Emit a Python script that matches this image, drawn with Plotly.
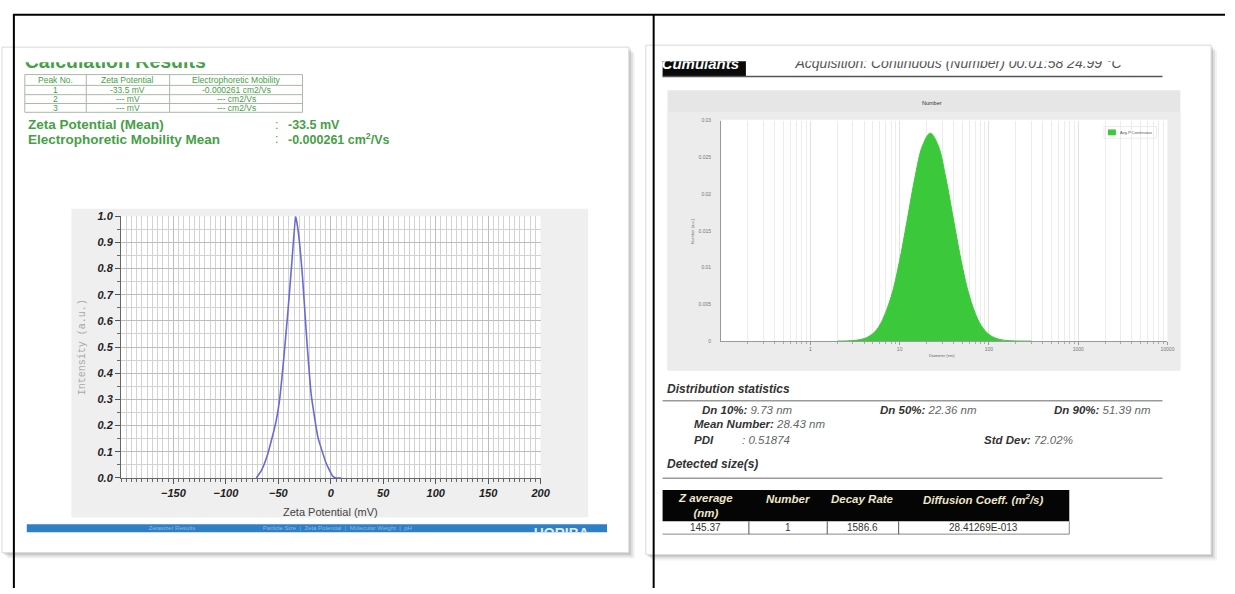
import plotly.graph_objects as go

W, H = 1235, 594
FONT = "Arial, Liberation Sans, sans-serif"
GREEN_TXT = "#46a046"

# ---- zeta potential distribution (left report) ----
zeta_mv = [-71, -66, -61, -56.6, -52, -48.6, -45, -41, -37, -33.5, -31, -27,
           -23.4, -18.7, -12.3, -4.4, 2, 5, 10]
zeta_intensity = [0, 0.03, 0.08, 0.144, 0.22, 0.306, 0.45, 0.63, 0.83, 1.0, 0.94,
                  0.77, 0.556, 0.319, 0.156, 0.056, 0.006, 0, 0]
zeta_tick_vals = [-150, -100, -50, 0, 50, 100, 150, 200]

# ---- number size distribution (right report) ----
diameter_nm = [2, 3, 4, 5, 6, 8, 10, 12, 15, 18, 22, 27, 33, 40, 50, 60, 75, 90,
               110, 140, 180, 220, 300]
number_dist = [0.000005, 0.00007, 0.00034, 0.00101, 0.00219, 0.00597, 0.01098,
               0.01613, 0.02258, 0.02657, 0.0283, 0.02663, 0.02215, 0.0166,
               0.01033, 0.00627, 0.00297, 0.00144, 0.00058, 0.00016, 0.00004,
               0.00001, 0]
diam_tick_vals = [1, 10, 100, 1000, 10000]
diam_tick_text = ["1", "10", "100", "1000", "10000"]
diam_minor_vals = [m * d for d in (0.1, 1, 10, 100, 1000) for m in range(2, 10)]
number_tick_vals = [0, 0.005, 0.01, 0.015, 0.02, 0.025, 0.03]
number_tick_text = ["0", "0.005", "0.01", "0.015", "0.02", "0.025", "0.03"]

# ---- result tables ----
peak_headers = ["Peak No.", "Zeta Potential", "Electrophoretic Mobility"]
peak_no = ["1", "2", "3"]
peak_zeta = ["-33.5 mV", "--- mV", "--- mV"]
peak_mobility = ["-0.000261 cm2/Vs", "--- cm2/Vs", "--- cm2/Vs"]
zeta_mean = "-33.5 mV"
mobility_mean = "-0.000261 cm<sup>2</sup>/Vs"

stat_labels = ["Dn 10%:", "Dn 50%:", "Dn 90%:", "Mean Number:", "PDI", "Std Dev:"]
stat_values = ["9.73 nm", "22.36 nm", "51.39 nm", "28.43 nm", ": 0.51874", "72.02%"]

size_headers = ["Z average<br>(nm)", "Number", "Decay Rate",
                "Diffusion Coeff. (m<sup>2</sup>/s)"]
size_values = ["145.37", "1", "1586.6", "28.41269E-013"]


def fx(x):
    return x / W


def fy(y):
    return 1 - y / H


shapes = []
annotations = []


def rect(x0, y0, x1, y1, fill, line=None, lw=0, layer="below"):
    shapes.append(dict(type="rect", xref="paper", yref="paper",
                       x0=fx(x0), x1=fx(x1), y0=fy(y1), y1=fy(y0),
                       fillcolor=fill, line=dict(color=line or fill, width=lw),
                       layer=layer))


def seg(x0, y0, x1, y1, color, w=1, layer="below"):
    shapes.append(dict(type="line", xref="paper", yref="paper",
                       x0=fx(x0), x1=fx(x1), y0=fy(y0), y1=fy(y1),
                       line=dict(color=color, width=w), layer=layer))


def label(x, y, text, size, color, anchor="left", angle=0, family=FONT):
    annotations.append(dict(xref="paper", yref="paper", x=fx(x), y=fy(y),
                            text=text, showarrow=False, xanchor=anchor,
                            yanchor="middle", textangle=angle,
                            font=dict(family=family, size=size, color=color)))


# ---------- report cards ----------
for off, a in ((6, 0.05), (4, 0.08), (2, 0.13)):
    rect(2 + off, 42 + off, 634 + off, 558 + off, f"rgba(0,0,0,{a})")
    rect(651 + off, 40 + off, 1221 + off, 560 + off, f"rgba(0,0,0,{a})")
rect(2, 42, 634, 558, "white", "#d8d8d8", 1)
rect(651, 40, 1221, 560, "white", "#d8d8d8", 1)

# chart panels and plotting areas
rect(72, 207, 593, 522, "#efefef")
rect(122, 214.5, 545, 481.7, "white")
rect(673, 86, 1190, 372, "#e6e6e6")
rect(673, 108, 1190, 372, "#ececec")
rect(727, 116, 1177, 342, "white")

# ---------- left report: header table ----------
tx = [25, 87, 171, 305]
ty = [70, 81, 90.5, 99.5, 108.5]
for y in ty:
    seg(tx[0], y, tx[-1], y, "#a9b9a9", 1)
for x in tx:
    seg(x, ty[0], x, ty[-1], "#a9b9a9", 1)
for j, head in enumerate(peak_headers):
    label((tx[j] + tx[j + 1]) / 2, (ty[0] + ty[1]) / 2, head, 8.5, GREEN_TXT, "center")
for i in range(3):
    yc = (ty[i + 1] + ty[i + 2]) / 2
    label((tx[0] + tx[1]) / 2, yc, peak_no[i], 8.5, GREEN_TXT, "center")
    label((tx[1] + tx[2]) / 2, yc, peak_zeta[i], 8.5, GREEN_TXT, "center")
    label((tx[2] + tx[3]) / 2, yc, peak_mobility[i], 8.5, GREEN_TXT, "center")

label(26, 121, "<b>Zeta Potential (Mean)</b>", 13.5, GREEN_TXT)
label(26, 136, "<b>Electrophoretic Mobility Mean</b>", 13.5, GREEN_TXT)
label(275, 121, ":", 12.5, GREEN_TXT)
label(275, 136, ":", 12.5, GREEN_TXT)
label(288, 121, f"<b>{zeta_mean}</b>", 12.5, GREEN_TXT)
label(288, 136, f"<b>{mobility_mean}</b>", 12.5, GREEN_TXT)

# axis titles of the zeta chart
label(84, 348, "Intensity (a.u.)", 10, "#a8a8a8", "center", -90,
      "Liberation Mono, DejaVu Sans Mono, monospace")
label(333, 516, "Zeta Potential (mV)", 11, "#444444", "center")

# footer banner
rect(27, 529, 612, 537, "#2f7fc6")

# ---------- right report ----------
rect(668, 56.5, 752, 72, "#0a0a0a")
seg(668, 72, 1172, 72, "#555555", 1.5)

label(940, 99, "Number", 5.5, "#333333", "center")
label(698, 230, "Number (a.u.)", 4, "#666666", "center", -90)
label(950, 357, "Diameter (nm)", 4, "#666666", "center")
rect(1113, 123, 1166, 135, "rgba(255,255,255,0.9)", "#dddddd", 0.6)
rect(1117, 126, 1125, 132, "#3bc93b")
label(1127, 129, "Avg-P Continuous", 4, "#555555")

label(670, 391, "<b><i>Distribution statistics</i></b>", 12, "#333333")
seg(668, 403, 1172, 403, "#9a9a9a", 1.5)


def stat(x, y, lab, val):
    label(x, y, f"<b><i>{lab}</i></b> <i><span style='color:#666'>{val}</span></i>",
          11.5, "#333333")


stat(706, 412, stat_labels[0], stat_values[0])
stat(885, 412, stat_labels[1], stat_values[1])
stat(1061, 412, stat_labels[2], stat_values[2])
stat(698, 427, stat_labels[3], stat_values[3])
label(698, 443, f"<b><i>{stat_labels[4]}</i></b>", 11.5, "#333333")
label(746, 443, f"<i>{stat_values[4]}</i>", 11.5, "#666666")
stat(990, 443, stat_labels[5], stat_values[5])

label(670, 467, "<b><i>Detected size(s)</i></b>", 12, "#333333")
seg(668, 482, 1172, 482, "#9a9a9a", 1.5)

cx = [668, 755, 834, 906, 1078]
rect(cx[0], 494, cx[-1], 526, "#050505")
seg(cx[0], 539, cx[-1], 539, "#888888", 1)
seg(cx[-1], 526, cx[-1], 539, "#888888", 1)
for x in cx[1:-1]:
    seg(x, 526, x, 539, "#555555", 1)
for j in range(4):
    xc = (cx[j] + cx[j + 1]) / 2
    yh = 510 if j == 0 else 503
    label(xc, yh, f"<b><i>{size_headers[j]}</i></b>", 11.5, "#efe6cc", "center")
    label(xc, 532.5, size_values[j], 10, "#333333", "center")

# ---------- outer frame ----------
seg(13, 9, W, 9, "black", 2, "above")
seg(14, 9, 14, H, "black", 2, "above")
seg(659, 9, 659, H, "black", 2, "above")

# ---------- traces ----------
fig = go.Figure()

fig.add_trace(go.Scatter(
    x=zeta_mv, y=zeta_intensity, mode="lines",
    line=dict(color="#6a6ad4", width=1.6, shape="spline", smoothing=0.4),
    xaxis="x", yaxis="y", hoverinfo="skip", showlegend=False))

fig.add_trace(go.Scatter(
    x=diameter_nm, y=number_dist, mode="lines", fill="tozeroy",
    fillcolor="#3bc93b", line=dict(color="#3bc93b", width=1, shape="spline"),
    xaxis="x2", yaxis="y2", hoverinfo="skip", showlegend=False))


def clip_text(axis_n, x, y, text, size, color, weight="normal", style="normal"):
    fig.add_trace(go.Scatter(
        x=[x], y=[y], mode="text", text=[text], textposition="middle right",
        textfont=dict(family=FONT, size=size, color=color, weight=weight, style=style),
        xaxis=f"x{axis_n}", yaxis=f"y{axis_n}", cliponaxis=True,
        hoverinfo="skip", showlegend=False))


# truncated section headings (cut by the screenshot edges)
clip_text(3, 25, 58.5, "Calculation Results", 19.5, GREEN_TXT, "bold")
clip_text(4, 667, 60, "Cumulants", 15, "white", "bold", "italic")
clip_text(4, 802, 59.5, "Acquisition: Continuous (Number) 00:01:58 24.99 °C", 14,
          "#555555", "normal", "italic")
clip_text(5, 150, 533, "Zetasizer Results", 6, "rgba(255,255,255,0.45)")
clip_text(5, 265, 533, "Particle Size  |  Zeta Potential  |  Molecular Weight  |  pH", 6,
          "rgba(255,255,255,0.45)")
clip_text(5, 538, 539, "HORIBA", 14, "rgba(255,255,255,0.85)", "bold")

tick_font = dict(family=FONT, size=11, color="#222222", weight="bold", style="italic")
small_font = dict(family=FONT, size=5, color="#777777")


def clip_axes(n, x0, x1, y0, y1):
    return {
        f"xaxis{n}": dict(domain=[fx(x0), fx(x1)], range=[x0, x1], visible=False,
                          anchor=f"y{n}", fixedrange=True),
        f"yaxis{n}": dict(domain=[fy(y1), fy(y0)], range=[y1, y0], visible=False,
                          anchor=f"x{n}", fixedrange=True),
    }


layout = dict(
    width=W, height=H, margin=dict(l=0, r=0, t=0, b=0),
    paper_bgcolor="white", plot_bgcolor="rgba(0,0,0,0)",
    shapes=shapes, annotations=annotations, showlegend=False,
    xaxis=dict(domain=[fx(122), fx(545)], range=[-200, 200], anchor="y",
               tickvals=zeta_tick_vals, ticks="outside", ticklen=5,
               tickcolor="#555555", showline=True, linecolor="#666666",
               showgrid=True, gridcolor="#bdbdbd", zeroline=False,
               tickfont=tick_font, fixedrange=True,
               minor=dict(dtick=5, tick0=0, showgrid=True, gridcolor="#d2d2d2",
                          ticks="outside", ticklen=3, tickcolor="#666666")),
    yaxis=dict(domain=[fy(481.7), fy(214.5)], range=[0, 1], anchor="x",
               dtick=0.1, tick0=0, tickformat=".1f", ticks="outside", ticklen=5,
               tickcolor="#555555", showline=True, linecolor="#666666",
               showgrid=True, gridcolor="#bdbdbd", zeroline=False,
               tickfont=tick_font, fixedrange=True,
               minor=dict(dtick=0.05, tick0=0, showgrid=True, gridcolor="#d2d2d2",
                          ticks="outside", ticklen=3, tickcolor="#666666")),
    xaxis2=dict(domain=[fx(727), fx(1177)], type="log", range=[-1, 4], anchor="y2",
                tickvals=diam_tick_vals, ticktext=diam_tick_text, ticks="outside",
                ticklen=3, tickcolor="#999999", showline=True, linecolor="#9a9a9a",
                showgrid=True, gridcolor="#e2e2e2", zeroline=False,
                tickfont=small_font, fixedrange=True,
                minor=dict(tickvals=diam_minor_vals, showgrid=True,
                           gridcolor="#ececec", ticks="outside", ticklen=2,
                           tickcolor="#aaaaaa")),
    yaxis2=dict(domain=[fy(342), fy(117)], range=[0, 0.03], anchor="x2",
                tickvals=number_tick_vals, ticktext=number_tick_text,
                showline=True, linecolor="#9a9a9a", showgrid=False,
                zeroline=False, tickfont=small_font, ticklabelstandoff=8,
                fixedrange=True),
)
layout.update(clip_axes(3, 20, 420, 57.5, 76))
layout.update(clip_axes(4, 660, 1200, 56.5, 71))
layout.update(clip_axes(5, 27, 612, 529, 537))

fig.update_layout(**layout)
fig.write_html("out.html")
